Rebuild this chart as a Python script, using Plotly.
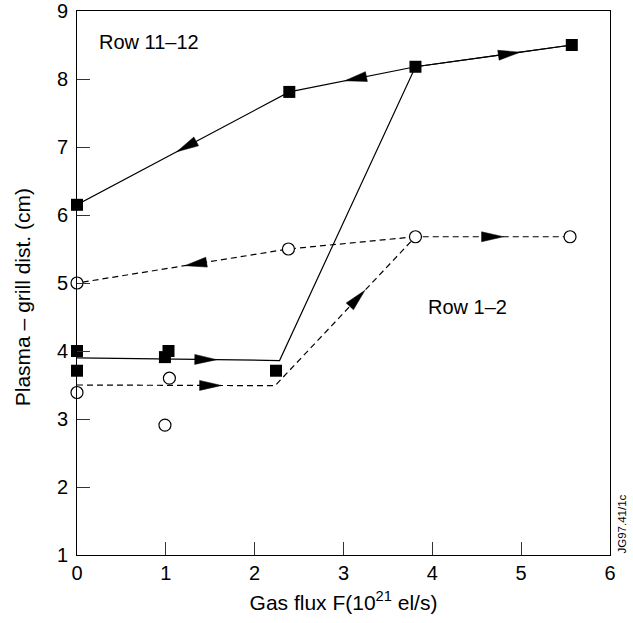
import plotly.graph_objects as go
import math

# ---------------- data ----------------
# Row 11-12 (filled squares)
sq_x = [0.0, 0.0, 0.99, 1.03, 2.24, 0.0, 2.39, 3.81, 5.57]
sq_y = [4.0, 3.71, 3.91, 4.0, 3.71, 6.15, 7.81, 8.18, 8.5]
# Row 1-2 (open circles)
ci_x = [0.0, 0.0, 0.99, 1.04, 2.38, 3.81, 5.55]
ci_y = [5.0, 3.39, 2.91, 3.6, 5.5, 5.68, 5.68]

# trend lines (increasing / decreasing gas flux)
solid_up_x = [0.0, 2.28, 3.81, 5.57]
solid_up_y = [3.9, 3.86, 8.18, 8.5]
solid_dn_x = [5.57, 3.81, 2.39, 0.0]
solid_dn_y = [8.5, 8.18, 7.81, 6.15]
dash_up_x = [0.0, 2.23, 3.81, 5.55]
dash_up_y = [3.5, 3.49, 5.68, 5.68]
dash_dn_x = [3.81, 2.38, 0.0]
dash_dn_y = [5.68, 5.5, 5.0]

# arrow positions: (segment index, fraction along segment)
solid_up_arrows = [(0, 0.69), (2, 0.67)]
solid_dn_arrows = [(1, 0.56), (2, 0.53)]
dash_up_arrows = [(0, 0.73), (1, 0.64), (2, 0.57)]
dash_dn_arrows = [(1, 0.49)]

x_ticks = [0, 1, 2, 3, 4, 5, 6]
y_ticks = [1, 2, 3, 4, 5, 6, 7, 8, 9]

# ---------------- layout constants ----------------
W, H = 633, 623
ML, MR, MT, MB = 77, 23, 11, 68
XR = [0, 6]
YR = [1, 9]
sx = (W - ML - MR) / (XR[1] - XR[0])
sy = (H - MT - MB) / (YR[1] - YR[0])

FONT = "Liberation Sans, Arial, Helvetica, sans-serif"

fig = go.Figure()

def add_line(xs, ys, dash):
    fig.add_trace(go.Scatter(x=xs, y=ys, mode="lines",
                             line=dict(color="black", width=1.2, dash=dash),
                             hoverinfo="skip", showlegend=False))

def add_arrows(xs, ys, specs, L=22, hw=5):
    for seg, f in specs:
        x0, y0, x1, y1 = xs[seg], ys[seg], xs[seg + 1], ys[seg + 1]
        tx = x0 + f * (x1 - x0)
        ty = y0 + f * (y1 - y0)
        dx = (x1 - x0) * sx
        dy = (y1 - y0) * sy
        n = math.hypot(dx, dy)
        ux, uy = dx / n, dy / n
        bx, by = -ux * L, -uy * L
        px, py = -uy * hw, ux * hw
        vx = [tx, tx + (bx + px) / sx, tx + (bx - px) / sx, tx]
        vy = [ty, ty + (by + py) / sy, ty + (by - py) / sy, ty]
        fig.add_trace(go.Scatter(x=vx, y=vy, mode="lines", fill="toself",
                                 fillcolor="black", line=dict(color="black", width=0.5),
                                 hoverinfo="skip", showlegend=False))

add_line(solid_up_x, solid_up_y, "solid")
add_line(solid_dn_x, solid_dn_y, "solid")
add_line(dash_up_x, dash_up_y, "6px,4px")
add_line(dash_dn_x, dash_dn_y, "6px,4px")

add_arrows(solid_up_x, solid_up_y, solid_up_arrows)
add_arrows(solid_dn_x, solid_dn_y, solid_dn_arrows)
add_arrows(dash_up_x, dash_up_y, dash_up_arrows)
add_arrows(dash_dn_x, dash_dn_y, dash_dn_arrows)

fig.add_trace(go.Scatter(x=sq_x, y=sq_y, mode="markers", cliponaxis=False,
                         marker=dict(symbol="square", size=12, color="black",
                                     line=dict(width=0)),
                         hoverinfo="skip", showlegend=False))
fig.add_trace(go.Scatter(x=ci_x, y=ci_y, mode="markers", cliponaxis=False,
                         marker=dict(symbol="circle", size=12, color="white",
                                     line=dict(color="black", width=1.2)),
                         hoverinfo="skip", showlegend=False))

axis_common = dict(showline=True, linecolor="black", linewidth=1, mirror=True,
                   ticks="inside", ticklen=13, tickcolor="#333", tickwidth=1,
                   showgrid=False, zeroline=False,
                   tickfont=dict(family=FONT, size=20, color="black"))

fig.update_xaxes(range=XR, tickvals=x_ticks, ticktext=[str(v) for v in x_ticks],
                 title=dict(text="Gas flux F(10<sup>21</sup> el/s)",
                            font=dict(family=FONT, size=21, color="black"), standoff=12),
                 **axis_common)
fig.update_yaxes(range=YR, tickvals=y_ticks, ticktext=[str(v) for v in y_ticks],
                 ticklabelstandoff=4, **axis_common)

# y-axis title placed as a rotated annotation (slightly below the axis centre as in the original)
fig.add_annotation(x=-0.103, y=0.474, xref="paper", yref="paper",
                   text="Plasma – grill dist. (cm)", showarrow=False, textangle=-90,
                   xanchor="center", yanchor="middle",
                   font=dict(family=FONT, size=21, color="black"))

fig.add_annotation(x=0.22, y=8.55, xref="x", yref="y", text="Row 11–12",
                   showarrow=False, xanchor="left", yanchor="middle",
                   font=dict(family=FONT, size=20, color="black"))
fig.add_annotation(x=3.93, y=4.65, xref="x", yref="y", text="Row 1–2",
                   showarrow=False, xanchor="left", yanchor="middle",
                   font=dict(family=FONT, size=20, color="black"))
fig.add_annotation(x=1.0225, y=0.0, xref="paper", yref="paper", text="JG97.41/1c",
                   showarrow=False, textangle=-90, xanchor="center", yanchor="bottom",
                   font=dict(family=FONT, size=11.5, color="black"))

fig.update_layout(width=W, height=H, margin=dict(l=ML, r=MR, t=MT, b=MB, autoexpand=False),
                  paper_bgcolor="white", plot_bgcolor="white", showlegend=False)

fig.write_html("out.html")
